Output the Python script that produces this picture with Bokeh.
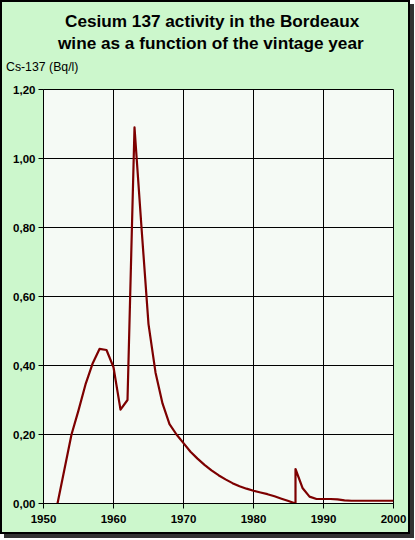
from bokeh.plotting import figure
from bokeh.models import Range1d, FixedTicker, CustomJSTickFormatter, Title
from bokeh.embed import file_html
from bokeh.resources import INLINE

# ---- data ----
years = [1952, 1953, 1954, 1955, 1956, 1957, 1958, 1959, 1960, 1961,
         1962, 1963, 1964, 1965, 1966, 1967, 1968, 1969, 1970, 1971,
         1972, 1973, 1974, 1975, 1976, 1977, 1978, 1979, 1980, 1981,
         1982, 1983, 1984, 1985, 1986, 1986, 1987, 1988, 1989, 1990,
         1991, 1992, 1993, 1994, 1995, 1996, 1997, 1998, 1999, 2000]
activity = [0.00, 0.10, 0.20, 0.27, 0.345, 0.405, 0.448, 0.445, 0.395, 0.272,
            0.30, 1.09, 0.80, 0.52, 0.38, 0.29, 0.23, 0.20, 0.175, 0.15,
            0.13, 0.112, 0.096, 0.082, 0.07, 0.059, 0.05, 0.043, 0.037, 0.032,
            0.027, 0.021, 0.014, 0.007, 0.0, 0.10, 0.045, 0.02, 0.013, 0.013,
            0.013, 0.012, 0.009, 0.008, 0.008, 0.008, 0.008, 0.008, 0.008, 0.008]

x_ticks = [1950, 1960, 1970, 1980, 1990, 2000]
y_ticks = [0.0, 0.2, 0.4, 0.6, 0.8, 1.0, 1.2]

title_lines = ["Cesium 137 activity in the Bordeaux",
               "wine as a function of the vintage year"]
y_label = "Cs-137 (Bq/l)"

FONT = "Liberation Sans"
GREEN = "#ccf7cc"
PLOT_BG = "#f5faf5"
LINE = "#7d0000"

p = figure(width=410, height=534, output_backend="svg", toolbar_location=None,
           x_range=Range1d(1950, 2000), y_range=Range1d(0, 1.2),
           min_border_left=43, min_border_right=17, min_border_top=89,
           min_border_bottom=31)
p.background_fill_color = PLOT_BG
p.border_fill_color = None
p.outline_line_color = "black"
p.outline_line_width = 1

p.styles = {
    "background-color": GREEN,
    "box-shadow": "inset 0 0 0 2px #000000, 4px 4px 0 0 #333333",
}

# axes
for ax in (p.xaxis[0], p.yaxis[0]):
    ax.axis_line_color = "black"
    ax.major_tick_line_color = "black"
    ax.minor_tick_line_color = None
    ax.major_tick_in = 0
    ax.major_tick_out = 5
    ax.major_label_text_font = FONT
    ax.major_label_text_font_style = "bold"
    ax.major_label_text_font_size = "11.5px"
    ax.major_label_text_color = "black"

p.xaxis[0].ticker = FixedTicker(ticks=x_ticks)
p.yaxis[0].ticker = FixedTicker(ticks=y_ticks)
p.xaxis[0].major_label_standoff = 6
p.yaxis[0].major_label_standoff = 3
p.yaxis[0].formatter = CustomJSTickFormatter(
    code="return tick.toFixed(2).replace('.', ',');")

p.xgrid[0].ticker = FixedTicker(ticks=x_ticks)
p.ygrid[0].ticker = FixedTicker(ticks=y_ticks)
for g in (p.xgrid[0], p.ygrid[0]):
    g.grid_line_color = "black"
    g.grid_line_width = 1
    g.grid_line_alpha = 1

p.line(years, activity, line_color=LINE, line_width=2.2, line_join="round")

# panels above the frame, stacked outward from the frame:
# small gap, axis label, title line 2, title line 1 (the figure's own title, outermost)
p.add_layout(Title(text=" ", text_font=FONT, text_font_size="1px",
                   standoff=6.7), "above")
p.add_layout(Title(text=y_label, align="left", offset=-37.5, standoff=10.1,
                   text_font=FONT, text_font_style="normal",
                   text_font_size="12.3px", text_color="black"), "above")
p.add_layout(Title(text=title_lines[1], align="left", offset=14.5, standoff=0.3,
                   text_font=FONT, text_font_style="bold",
                   text_font_size="17.2px", text_color="black"), "above")

p.title.text = title_lines[0]
p.title.align = "left"
p.title.offset = 21.5
p.title.standoff = 0.3
p.title.text_font = FONT
p.title.text_font_style = "bold"
p.title.text_font_size = "17.2px"
p.title.text_color = "black"

open("out.html", "w").write(file_html(p, INLINE))
